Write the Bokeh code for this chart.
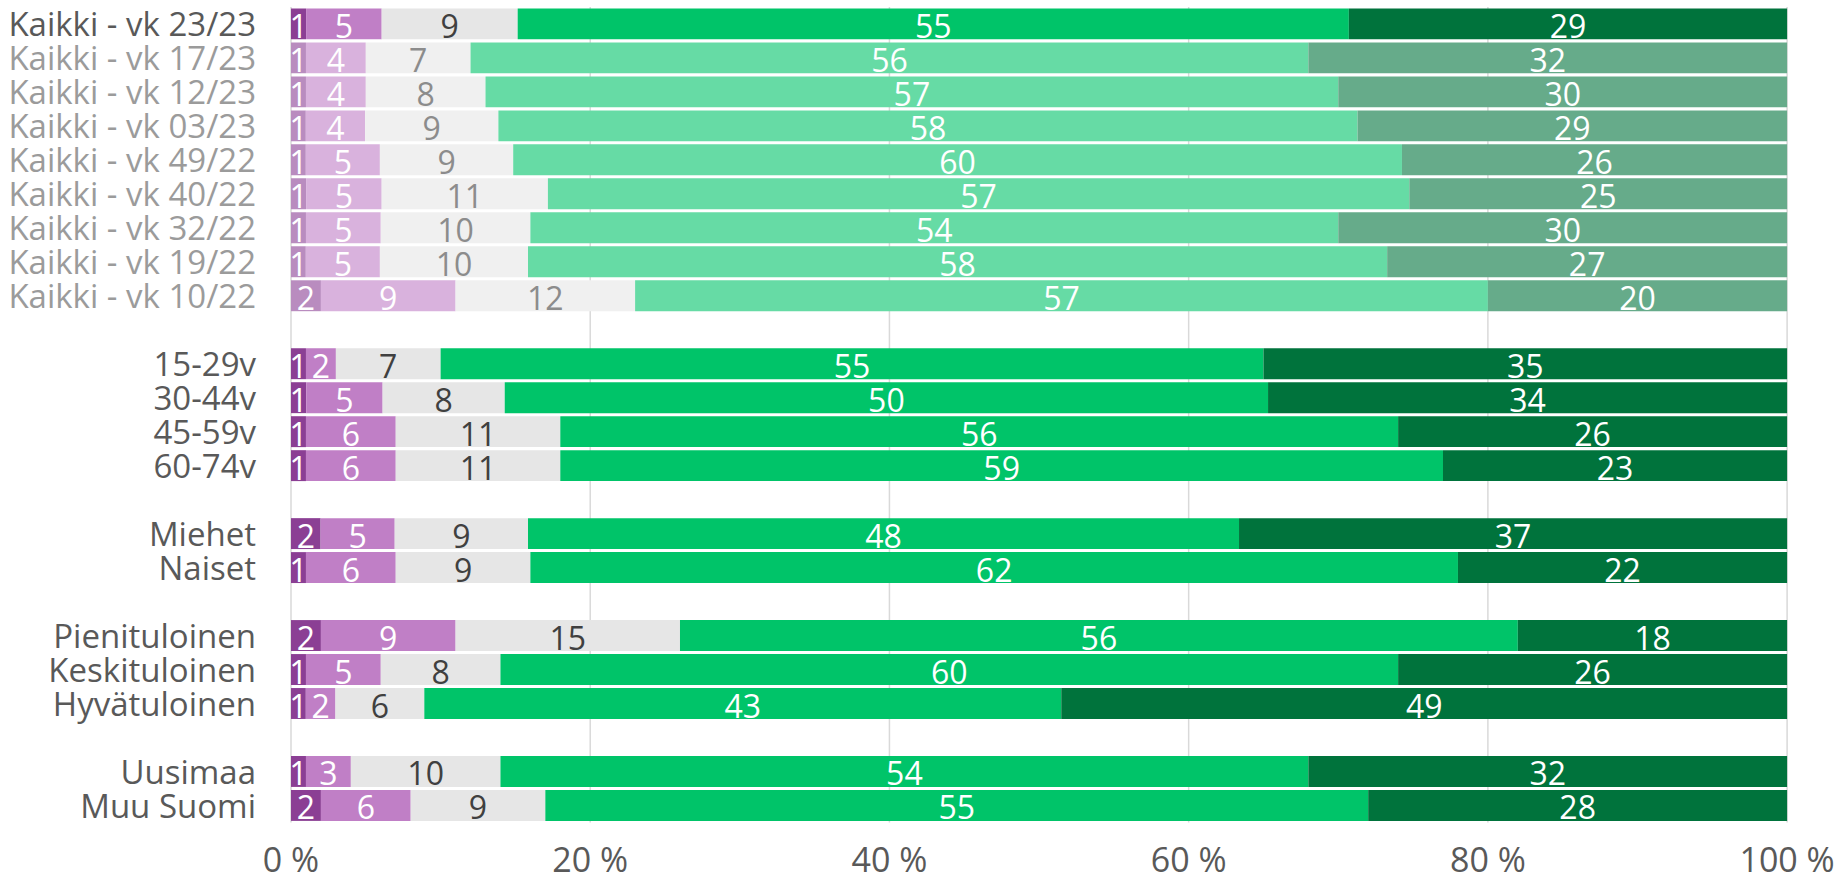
from bokeh.plotting import figure
from bokeh.models import ColumnDataSource, Range1d
from bokeh.core.properties import value
from bokeh.embed import file_html
from bokeh.resources import INLINE

# ---------------- data ----------------
categories = [
    "Kaikki - vk 23/23", "Kaikki - vk 17/23", "Kaikki - vk 12/23", "Kaikki - vk 03/23",
    "Kaikki - vk 49/22", "Kaikki - vk 40/22", "Kaikki - vk 32/22", "Kaikki - vk 19/22",
    "Kaikki - vk 10/22",
    "15-29v", "30-44v", "45-59v", "60-74v",
    "Miehet", "Naiset",
    "Pienituloinen", "Keskituloinen", "Hyvätuloinen",
    "Uusimaa", "Muu Suomi",
]
group_sizes = [9, 4, 2, 3, 2]
faded_rows = [False, True, True, True, True, True, True, True, True,
              False, False, False, False, False, False, False, False, False, False, False]

s1 = [1, 1, 1, 1, 1, 1, 1, 1, 2, 1, 1, 1, 1, 2, 1, 2, 1, 1, 1, 2]
s2 = [5, 4, 4, 4, 5, 5, 5, 5, 9, 2, 5, 6, 6, 5, 6, 9, 5, 2, 3, 6]
s3 = [9, 7, 8, 9, 9, 11, 10, 10, 12, 7, 8, 11, 11, 9, 9, 15, 8, 6, 10, 9]
s4 = [55, 56, 57, 58, 60, 57, 54, 58, 57, 55, 50, 56, 59, 48, 62, 56, 60, 43, 54, 55]
s5 = [29, 32, 30, 29, 26, 25, 30, 27, 20, 35, 34, 26, 23, 37, 22, 18, 26, 49, 32, 28]
series = [s1, s2, s3, s4, s5]

x_ticks = [0, 20, 40, 60, 80, 100]
x_tick_labels = ["0 %", "20 %", "40 %", "60 %", "80 %", "100 %"]

# ---------------- styles ----------------
colors = ["#8B3F94", "#C07FC6", "#E6E6E6", "#00C469", "#00733C"]
colors_faded = ["#B98CBF", "#D9B2DD", "#F0F0F0", "#66DBA5", "#66AB8A"]
label_colors = ["#FFFFFF", "#FFFFFF", "#404040", "#FFFFFF", "#FFFFFF"]
label_colors_faded = ["#FFFFFF", "#FFFFFF", "#8C8C8C", "#FFFFFF", "#FFFFFF"]
FONT = "Open Sans"
W, H = 1837, 882
PX_LEFT, PX_RIGHT = 290.5, 1786.6      # screen position of 0 % and 100 %
SLOT_PX, FIRST_PX = 33.98, 23.4        # row pitch and first row centre
TICK_LABEL_SHIFT = 1.08                # tick labels below last slot edge (slot units)

# slot positions with one empty slot between groups
slots = []
pos = 0
for g in group_sizes:
    for _ in range(g):
        slots.append(pos)
        pos += 1
    pos += 1
last = slots[-1]

# build long-form table
bar = dict(y=[], left=[], right=[], color=[], mid=[], text=[], tcolor=[])
for i, cat in enumerate(categories):
    vals = [s[i] for s in series]
    tot = float(sum(vals))
    cum = 0.0
    for k, v in enumerate(vals):
        l = cum / tot * 100
        cum += v
        r = cum / tot * 100
        bar["y"].append(slots[i])
        bar["left"].append(l)
        bar["right"].append(r)
        bar["color"].append(colors_faded[k] if faded_rows[i] else colors[k])
        bar["mid"].append((l + r) / 2)
        bar["text"].append(str(v))
        bar["tcolor"].append(label_colors_faded[k] if faded_rows[i] else label_colors[k])
src = ColumnDataSource(bar)

cat_src = ColumnDataSource(dict(
    x=[0] * len(categories), y=slots, text=categories,
    color=["#9B9B9B" if f else "#595959" for f in faded_rows],
))
tick_src = ColumnDataSource(dict(x=x_ticks, y=[last + 0.5 + TICK_LABEL_SHIFT] * len(x_ticks),
                                 text=x_tick_labels))
grid_src = ColumnDataSource(dict(x=x_ticks, y0=[-0.5] * len(x_ticks),
                                 y1=[last + 0.5] * len(x_ticks)))

ppu = (PX_RIGHT - PX_LEFT) / 100.0
x_start = -PX_LEFT / ppu
x_end = 100 + (W - PX_RIGHT) / ppu
y_top = -FIRST_PX / SLOT_PX
y_bottom = y_top + H / SLOT_PX

p = figure(width=W, height=H, output_backend="svg", toolbar_location=None,
           x_range=Range1d(x_start, x_end), y_range=Range1d(y_bottom, y_top),
           min_border=0, min_border_left=0, min_border_right=0,
           min_border_top=0, min_border_bottom=0)
p.outline_line_color = None
p.axis.visible = False
p.grid.visible = False

p.segment(x0="x", x1="x", y0="y0", y1="y1", source=grid_src,
          line_color="#D9D9D9", line_width=1.5)

p.hbar(y="y", left="left", right="right", height=0.91, fill_color="color",
       line_color=None, source=src)

p.text(x="mid", y="y", text="text", source=src, text_color="tcolor",
       text_align="center", text_baseline="middle", y_offset=2,
       text_font=value(FONT), text_font_size="32px")
p.text(x="x", y="y", text="text", source=cat_src, text_color="color",
       text_align="right", text_baseline="middle", x_offset=-35,
       text_font=value(FONT), text_font_size="33px")
p.text(x="x", y="y", text="text", source=tick_src, text_color="#595959",
       text_align="center", text_baseline="middle",
       text_font=value(FONT), text_font_size="34px")

open("out.html", "w").write(file_html(p, INLINE))
